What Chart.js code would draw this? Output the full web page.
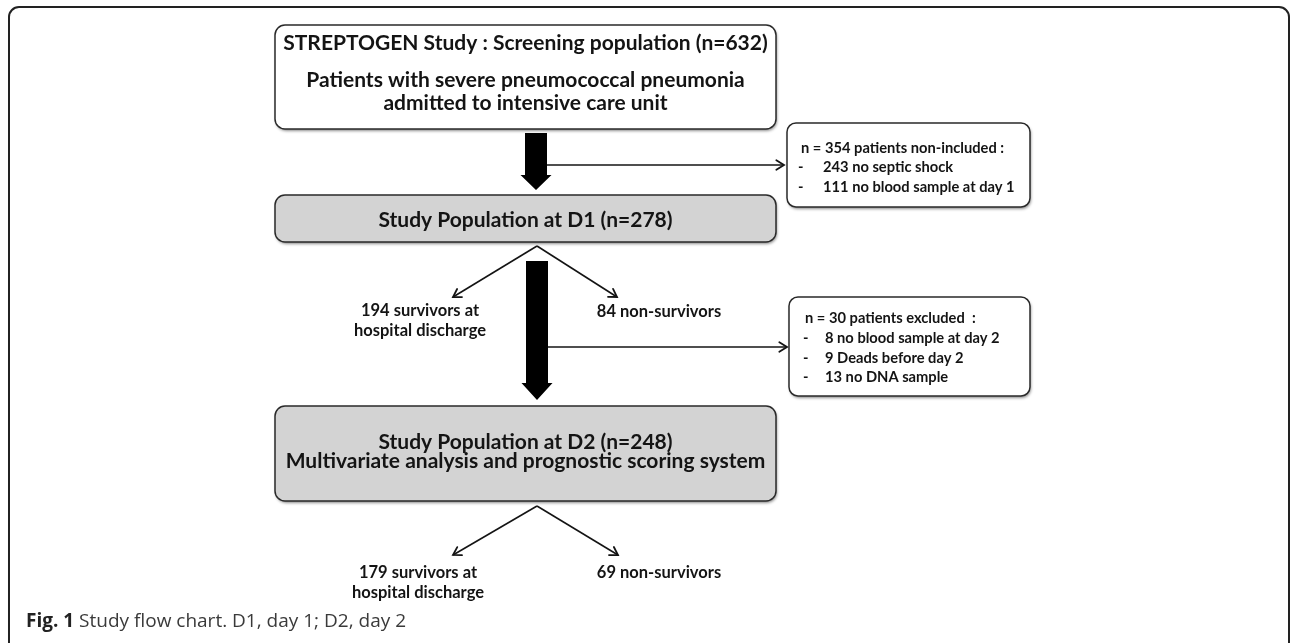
<!DOCTYPE html>
<html lang="en">
<head>
    <meta charset="UTF-8">
    <title>Study flow chart</title>
    <script src="https://cdn.jsdelivr.net/npm/chart.js@4.4.1/dist/chart.umd.min.js"></script>
    <style>
        body { margin: 0; background: #fff; }
        #wrap { width: 1290px; height: 643px; }
    </style>
</head>
<body>
 <div id="wrap"><canvas id="flow"></canvas></div>
 <script>
    // values of the flow chart
    const stageTitles = ['STREPTOGEN Study : Screening population', 'Study Population at D1', 'Study Population at D2'];
    const stageN = [632, 278, 248];
    const stageNotes = [
        ['Patients with severe pneumococcal pneumonia', 'admitted to intensive care unit'],
        [],
        ['Multivariate analysis and prognostic scoring system']
    ];
    const excludedN = [354, 30];
    const excludedTitles = ['patients non-included :', 'patients excluded  :'];
    const excludedReasons = [
        ['243 no septic shock', '111 no blood sample at day 1'],
        ['8 no blood sample at day 2', '9 Deads before day 2', '13 no DNA sample']
    ];
    const survivorsN = [194, 179];
    const nonSurvivorsN = [84, 69];
    const captionLabel = 'Fig. 1';
    const captionText = 'Study flow chart. D1, day 1; D2, day 2';

    // layout, in grid units (x 0..129, y 0..64.3 from the top)
    const stageBoxes = [
        {x0: 27.5, x1: 77.6, y0: 2.5, y1: 12.9, fill: '#ffffff', lineY: [4.3, 8.0, 10.3]},
        {x0: 27.5, x1: 77.6, y0: 19.5, y1: 24.2, fill: '#d3d3d3', lineY: [22.0]},
        {x0: 27.5, x1: 77.6, y0: 40.6, y1: 50.1, fill: '#d3d3d3', lineY: [44.2, 46.1]}
    ];
    const excludedBoxes = [
        {x0: 78.7, x1: 103.0, y0: 12.3, y1: 20.7, titleX: 80.1, dashX: 79.8, itemX: 82.3, lineY: [14.8, 16.7, 18.7]},
        {x0: 78.9, x1: 103.0, y0: 29.7, y1: 39.6, titleX: 80.5, dashX: 80.3, itemX: 82.5, lineY: [31.8, 33.8, 35.8, 37.7]}
    ];
    const bigArrows = [
        {x: 53.6, top: 13.3, head: 17.5, tip: 19.0},
        {x: 53.7, top: 26.1, head: 38.3, tip: 40.0}
    ];
    const sideLinks = [
        [{x: 54.5, y: 16.5}, {x: 78.4, y: 16.5}],
        [{x: 54.8, y: 34.7}, {x: 78.7, y: 34.7}]
    ];
    const splits = [
        {apex: {x: 53.7, y: 24.6}, left: {x: 45.3, y: 29.7}, right: {x: 61.7, y: 29.7}},
        {apex: {x: 53.7, y: 50.6}, left: {x: 45.3, y: 55.5}, right: {x: 61.8, y: 55.5}}
    ];
    const outcomeLabels = [
        {survX: 42.0, survY: [31.1, 33.1], nonX: 65.9, nonY: 31.2},
        {survX: 41.8, survY: [57.3, 59.3], nonX: 65.9, nonY: 57.3}
    ];
    const frame = {x0: 0.9, x1: 128.9, y0: 0.7, y1: 70};
    const captionPos = {x: 2.6, y: 62.2};

    const ink = '#141414';
    const boxFont = 'Lato, "Open Sans", sans-serif';

    function roundPath(ctx, x0, y0, x1, y1, r) {
        ctx.beginPath();
        ctx.moveTo(x0 + r, y0);
        ctx.arcTo(x1, y0, x1, y1, r);
        ctx.arcTo(x1, y1, x0, y1, r);
        ctx.arcTo(x0, y1, x0, y0, r);
        ctx.arcTo(x0, y0, x1, y0, r);
        ctx.closePath();
    }

    function drawBox(chart, b, fill, r) {
        const ctx = chart.ctx, sx = chart.scales.x, sy = chart.scales.y;
        const x0 = sx.getPixelForValue(b.x0), x1 = sx.getPixelForValue(b.x1);
        const y0 = sy.getPixelForValue(b.y0), y1 = sy.getPixelForValue(b.y1);
        ctx.save();
        roundPath(ctx, x0, y0, x1, y1, r);
        ctx.shadowColor = 'rgba(0,0,0,0.45)';
        ctx.shadowBlur = 3;
        ctx.shadowOffsetX = 1;
        ctx.shadowOffsetY = 2;
        ctx.fillStyle = fill;
        ctx.fill();
        ctx.shadowColor = 'transparent';
        ctx.lineWidth = 1.5;
        ctx.strokeStyle = '#2a2a2a';
        ctx.stroke();
        ctx.restore();
    }

    // links built from the layout
    const linkSets = [];
    sideLinks.forEach(l => linkSets.push(l));
    splits.forEach(s => {
        linkSets.push([s.apex, s.left]);
        linkSets.push([s.apex, s.right]);
    });

    const flowPlugin = {
        id: 'flow',
        beforeDatasetsDraw(chart) {
            const ctx = chart.ctx, sx = chart.scales.x, sy = chart.scales.y;
            // outer frame
            ctx.save();
            roundPath(ctx, sx.getPixelForValue(frame.x0), sy.getPixelForValue(frame.y0),
                sx.getPixelForValue(frame.x1), sy.getPixelForValue(frame.y1), 10);
            ctx.lineWidth = 2;
            ctx.strokeStyle = '#222';
            ctx.stroke();
            ctx.restore();

            stageBoxes.forEach(b => drawBox(chart, b, b.fill, 10));
            excludedBoxes.forEach(b => drawBox(chart, b, '#ffffff', 9));
        },
        afterDatasetsDraw(chart) {
            const ctx = chart.ctx, sx = chart.scales.x, sy = chart.scales.y;

            // open arrow heads on the thin links
            chart.data.datasets.forEach((ds, i) => {
                const pts = chart.getDatasetMeta(i).data;
                const a = pts[pts.length - 2], b = pts[pts.length - 1];
                const ang = Math.atan2(b.y - a.y, b.x - a.x);
                const len = 9, spread = 0.55;
                ctx.save();
                ctx.strokeStyle = ink;
                ctx.lineWidth = 1.8;
                ctx.lineCap = 'round';
                ctx.beginPath();
                ctx.moveTo(b.x - len * Math.cos(ang - spread), b.y - len * Math.sin(ang - spread));
                ctx.lineTo(b.x, b.y);
                ctx.lineTo(b.x - len * Math.cos(ang + spread), b.y - len * Math.sin(ang + spread));
                ctx.stroke();
                ctx.restore();
            });

            // thick block arrows
            bigArrows.forEach(a => {
                const cx = sx.getPixelForValue(a.x);
                const sw = sx.getPixelForValue(a.x + 1.1) - cx;
                const hw = sx.getPixelForValue(a.x + 1.55) - cx;
                const yt = sy.getPixelForValue(a.top), yh = sy.getPixelForValue(a.head), yp = sy.getPixelForValue(a.tip);
                ctx.save();
                ctx.fillStyle = '#000';
                ctx.beginPath();
                ctx.moveTo(cx - sw, yt);
                ctx.lineTo(cx + sw, yt);
                ctx.lineTo(cx + sw, yh);
                ctx.lineTo(cx + hw, yh);
                ctx.lineTo(cx, yp);
                ctx.lineTo(cx - hw, yh);
                ctx.lineTo(cx - sw, yh);
                ctx.closePath();
                ctx.fill();
                ctx.restore();
            });

            ctx.save();
            ctx.fillStyle = ink;
            ctx.textBaseline = 'middle';

            // stage boxes text
            stageBoxes.forEach((b, i) => {
                const lines = [stageTitles[i] + ' (n=' + stageN[i] + ')'].concat(stageNotes[i]);
                const cx = sx.getPixelForValue((b.x0 + b.x1) / 2);
                ctx.textAlign = 'center';
                ctx.font = 'bold 21px ' + boxFont;
                lines.forEach((t, k) => ctx.fillText(t, cx, sy.getPixelForValue(b.lineY[k])));
            });

            // exclusion boxes text
            excludedBoxes.forEach((b, i) => {
                ctx.textAlign = 'left';
                ctx.font = 'bold 14.7px ' + boxFont;
                ctx.fillText('n = ' + excludedN[i] + ' ' + excludedTitles[i], sx.getPixelForValue(b.titleX), sy.getPixelForValue(b.lineY[0]));
                excludedReasons[i].forEach((t, k) => {
                    const y = sy.getPixelForValue(b.lineY[k + 1]);
                    ctx.fillText('-', sx.getPixelForValue(b.dashX), y);
                    ctx.fillText(t, sx.getPixelForValue(b.itemX), y);
                });
            });

            // outcome labels
            outcomeLabels.forEach((o, i) => {
                ctx.textAlign = 'center';
                ctx.font = 'bold 16.5px ' + boxFont;
                const sxp = sx.getPixelForValue(o.survX);
                ctx.fillText(survivorsN[i] + ' survivors at', sxp, sy.getPixelForValue(o.survY[0]));
                ctx.fillText('hospital discharge', sxp, sy.getPixelForValue(o.survY[1]));
                ctx.fillText(nonSurvivorsN[i] + ' non-survivors', sx.getPixelForValue(o.nonX), sy.getPixelForValue(o.nonY));
            });

            // caption
            ctx.textAlign = 'left';
            const cx0 = sx.getPixelForValue(captionPos.x), cy0 = sy.getPixelForValue(captionPos.y);
            ctx.font = 'bold 19px "Open Sans", sans-serif';
            ctx.fillStyle = '#222';
            ctx.fillText(captionLabel, cx0, cy0);
            const w = ctx.measureText(captionLabel + ' ').width;
            ctx.font = '19px "Open Sans", sans-serif';
            ctx.fillStyle = '#3a3a3a';
            ctx.fillText(captionText, cx0 + w, cy0);
            ctx.restore();
        }
    };

    new Chart(document.getElementById('flow'), {
        type: 'scatter',
        data: {
            datasets: linkSets.map(l => ({
                data: l,
                showLine: true,
                borderColor: ink,
                borderWidth: 1.6,
                pointRadius: 0,
                fill: false
            }))
        },
        options: {
            responsive: true,
            maintainAspectRatio: false,
            animation: false,
            layout: { padding: 0 },
            plugins: { legend: { display: false }, tooltip: { enabled: false } },
            scales: {
                x: { type: 'linear', min: 0, max: 129, display: false },
                y: { type: 'linear', min: 0, max: 64.3, reverse: true, display: false }
            }
        },
        plugins: [flowPlugin]
    });
 </script>
</body>
</html>
